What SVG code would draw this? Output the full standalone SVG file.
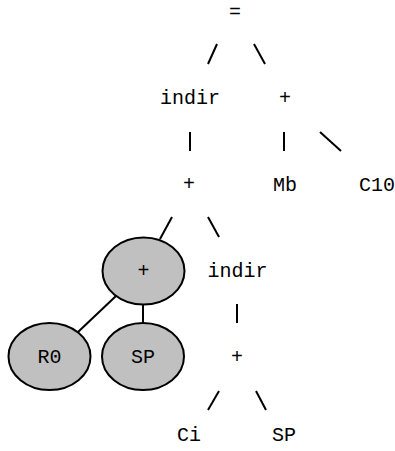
<svg xmlns="http://www.w3.org/2000/svg" width="395" height="451" viewBox="0 0 395 451">
<style>
text{font-family:"Liberation Mono","Courier New",monospace;font-size:20px;fill:#000;text-anchor:middle}
.n ellipse{fill:#c0c0c0;stroke:#000;stroke-width:2}
#edges line{stroke:#000;stroke-width:2;stroke-linecap:butt}
</style>
<rect width="395" height="451" fill="#fff"/>
<g id="edges">
<line x1="217" y1="44" x2="208" y2="64"/>
<line x1="254" y1="44" x2="265" y2="64"/>
<line x1="190" y1="132" x2="190" y2="151"/>
<line x1="284" y1="132" x2="284" y2="151"/>
<line x1="320" y1="132" x2="341" y2="151"/>
<line x1="172" y1="217" x2="160" y2="239"/>
<line x1="208" y1="217" x2="219" y2="237"/>
<line x1="116" y1="296" x2="78" y2="332"/>
<line x1="143" y1="305" x2="143" y2="323"/>
<line x1="237" y1="304" x2="237" y2="323"/>
<line x1="219" y1="391" x2="208" y2="410"/>
<line x1="256" y1="391" x2="266" y2="410"/>
</g>
<g id="n_eq" class="n"><text x="235" y="18">=</text></g>
<g id="n_indir1" class="n"><text x="190" y="104">indir</text></g>
<g id="n_plus1" class="n"><text x="285" y="104">+</text></g>
<g id="n_plus2" class="n"><text x="189" y="190">+</text></g>
<g id="n_mb" class="n"><text x="285" y="191">Mb</text></g>
<g id="n_c10" class="n"><text x="377" y="191">C10</text></g>
<g id="n_plus3" class="n"><ellipse cx="143.5" cy="271" rx="41" ry="33.5"/><text x="143.5" y="277">+</text></g>
<g id="n_indir2" class="n"><text x="237.5" y="277">indir</text></g>
<g id="n_r0" class="n"><ellipse cx="49.5" cy="356.5" rx="41" ry="33.5"/><text x="49.5" y="363">R0</text></g>
<g id="n_sp1" class="n"><ellipse cx="143" cy="356.5" rx="41" ry="33.5"/><text x="143" y="363">SP</text></g>
<g id="n_plus4" class="n"><text x="237" y="363">+</text></g>
<g id="n_ci" class="n"><text x="189" y="441">Ci</text></g>
<g id="n_sp2" class="n"><text x="284" y="441">SP</text></g>
</svg>
